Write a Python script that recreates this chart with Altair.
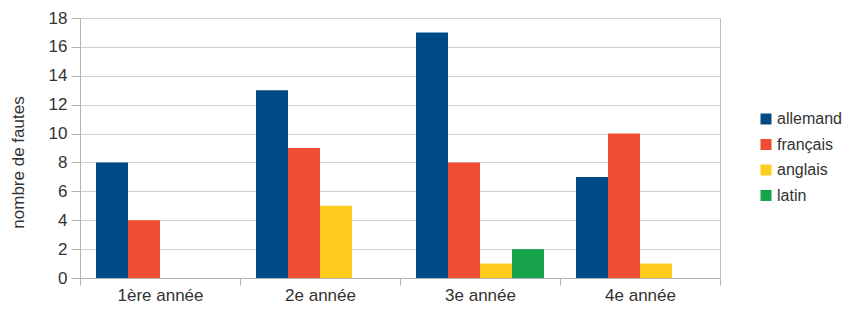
import altair as alt
import pandas as pd

categories = ["1ère année", "2e année", "3e année", "4e année"]
langues = ["allemand", "français", "anglais", "latin"]
allemand = [8, 13, 17, 7]
francais = [4, 9, 8, 10]
anglais = [0, 5, 1, 1]
latin = [0, 0, 2, 0]
colors = ["#004a86", "#f04e33", "#fecd20", "#16a34a"]
y_ticks = [0, 2, 4, 6, 8, 10, 12, 14, 16, 18]

rows = []
for i, c in enumerate(categories):
    for lang, vals in zip(langues, [allemand, francais, anglais, latin]):
        rows.append({"annee": c, "langue": lang, "fautes": vals[i]})
df = pd.DataFrame(rows)

FONT = "Liberation Sans"

chart = alt.Chart(df).mark_bar().encode(
    x=alt.X(
        "annee:N", sort=categories,
        scale=alt.Scale(paddingInner=0, paddingOuter=0),
        axis=alt.Axis(title=None, labelAngle=0, tickBand="extent", tickSize=7,
                      labelPadding=2, grid=False, domainColor="#b3b3b3",
                      tickColor="#b3b3b3"),
    ),
    xOffset=alt.XOffset("langue:N", sort=langues,
                        scale=alt.Scale(paddingInner=0, paddingOuter=0.5)),
    y=alt.Y(
        "fautes:Q",
        scale=alt.Scale(domain=[0, 18], nice=False),
        axis=alt.Axis(values=y_ticks, title="nombre de fautes", tickSize=9,
                      labelPadding=4, titleX=-62, titleY=144,
                      titleBaseline="middle", titleAlign="center",
                      gridColor="#d0d0d0", domainColor="#b3b3b3",
                      tickColor="#b3b3b3"),
    ),
    color=alt.Color(
        "langue:N", sort=langues,
        scale=alt.Scale(domain=langues, range=colors),
        legend=alt.Legend(title=None, orient="none", legendX=678, legendY=93,
                          symbolType="square", symbolSize=121,
                          symbolStrokeWidth=0, labelFontSize=16, labelOffset=3,
                          rowPadding=9.5, padding=0),
    ),
).properties(
    width=640, height=260,
    autosize=alt.AutoSizeParams(type="none"),
    padding={"left": 72, "top": 10, "right": 124, "bottom": 26},
).configure_view(
    stroke="#c0c0c0"
).configure_axis(
    labelFont=FONT, labelFontSize=17, labelColor="#333333",
    titleFont=FONT, titleFontSize=17, titleColor="#333333",
    titleFontWeight="normal",
).configure_legend(
    labelFont=FONT, labelColor="#333333"
)

chart.save("out.html", embed_options={"renderer": "svg", "actions": False})
